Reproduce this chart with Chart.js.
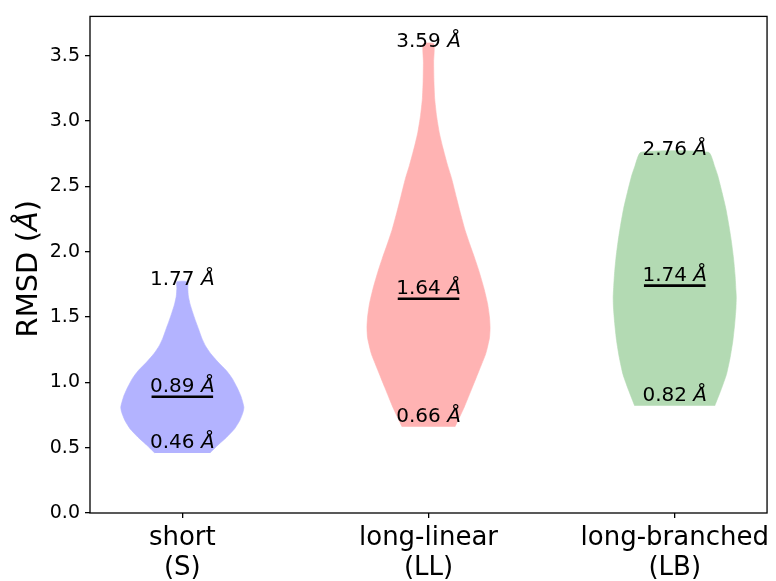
<!DOCTYPE html>
<html>
<head>
<meta charset="utf-8">
<script src="https://cdn.jsdelivr.net/npm/chart.js@4/dist/chart.umd.min.js"></script>
<style>
  html, body { margin: 0; padding: 0; background: #fff; }
  #wrap { width: 776px; height: 581px; }
</style>
</head>
<body>
<div id="wrap"><canvas id="c" width="776" height="581"></canvas></div>
<script>
// Groups along the x axis
const categories = [['short', '(S)'], ['long-linear', '(LL)'], ['long-branched', '(LB)']];
const positions = [1, 2, 3];

// Summary statistics per group (RMSD in Å)
const minValues = [0.46, 0.66, 0.82];
const maxValues = [1.77, 3.59, 2.76];
const medianValues = [0.89, 1.64, 1.74];

// Kernel density outlines: [RMSD, density relative to the group's peak]
const densityS = [
  [0.46, 0.45], [0.52, 0.58], [0.58, 0.72], [0.645, 0.85], [0.71, 0.935],
  [0.77, 0.985], [0.81, 1.0], [0.89, 0.955], [0.96, 0.89], [1.03, 0.81],
  [1.09, 0.715], [1.155, 0.58], [1.22, 0.46], [1.28, 0.375], [1.34, 0.315],
  [1.41, 0.262], [1.47, 0.215], [1.535, 0.168], [1.60, 0.125], [1.66, 0.098],
  [1.72, 0.089], [1.77, 0.088]
];
const densityLL = [
  [0.66, 0.43], [0.81, 0.58], [0.96, 0.71], [1.10, 0.83], [1.22, 0.93],
  [1.34, 0.99], [1.42, 1.0], [1.50, 0.99], [1.60, 0.96], [1.72, 0.90],
  [1.85, 0.82], [1.95, 0.75], [2.05, 0.675], [2.17, 0.59], [2.30, 0.515],
  [2.41, 0.455], [2.56, 0.375], [2.66, 0.31], [2.80, 0.23], [2.91, 0.175],
  [3.04, 0.13], [3.17, 0.10], [3.30, 0.088], [3.45, 0.083], [3.59, 0.085]
];
const densityLB = [
  [0.82, 0.65], [0.94, 0.75], [1.06, 0.84], [1.19, 0.90], [1.32, 0.945],
  [1.45, 0.975], [1.57, 0.995], [1.65, 1.0], [1.70, 0.995], [1.82, 0.98],
  [1.95, 0.955], [2.08, 0.92], [2.20, 0.88], [2.33, 0.83], [2.45, 0.77],
  [2.58, 0.70], [2.65, 0.65], [2.76, 0.55]
];
const densities = [densityS, densityLL, densityLB];

const fillColors = ['rgb(179,179,255)', 'rgb(255,179,179)', 'rgb(179,218,179)'];
const yTicks = [0, 0.5, 1.0, 1.5, 2.0, 2.5, 3.0, 3.5];

const HALF_WIDTH = 0.25;     // half of the violin width in x units
const MEDIAN_HALF = 0.125;   // half-length of the median bar
const FONT = "'DejaVu Sans', sans-serif";

// Closed outline: up the right side, back down the left side
function violinOutline(center, profile) {
  const right = profile.map(([v, w]) => ({ x: center + w * HALF_WIDTH, y: v }));
  const left = profile.slice().reverse().map(([v, w]) => ({ x: center - w * HALF_WIDTH, y: v }));
  return right.concat(left);
}

const datasets = [];
positions.forEach((p, i) => {
  datasets.push({
    data: violinOutline(p, densities[i]),
    backgroundColor: fillColors[i],
    borderColor: fillColors[i],
    borderWidth: 0.6,
    fill: 'shape',
    tension: 0.18,
    pointRadius: 0,
    pointHoverRadius: 0,
    order: 2
  });
});
positions.forEach((p, i) => {
  datasets.push({
    data: [{ x: p - MEDIAN_HALF, y: medianValues[i] }, { x: p + MEDIAN_HALF, y: medianValues[i] }],
    borderColor: '#000',
    borderWidth: 2.6,
    fill: false,
    tension: 0,
    pointRadius: 0,
    pointHoverRadius: 0,
    order: 1
  });
});

// Draw "value Å" with an italic Å, centred on x
function drawValueText(ctx, value, x, baseline, size) {
  const num = value.toFixed(2) + ' ';
  ctx.font = size + 'px ' + FONT;
  const w1 = ctx.measureText(num).width;
  ctx.font = 'oblique ' + size + 'px ' + FONT;
  const w2 = ctx.measureText('Å').width;
  const start = x - (w1 + w2) / 2;
  ctx.textAlign = 'left';
  ctx.textBaseline = 'alphabetic';
  ctx.fillStyle = '#000';
  ctx.font = size + 'px ' + FONT;
  ctx.fillText(num, start, baseline);
  ctx.font = 'oblique ' + size + 'px ' + FONT;
  ctx.fillText('Å', start + w1, baseline);
}

const annotations = {
  id: 'annotations',
  afterDatasetsDraw(chart) {
    const { ctx, chartArea, scales } = chart;
    const xs = scales.x, ys = scales.y;
    ctx.save();
    positions.forEach((p, i) => {
      const cx = xs.getPixelForValue(p);
      drawValueText(ctx, maxValues[i], cx, ys.getPixelForValue(maxValues[i]) + 3, 20);
      drawValueText(ctx, medianValues[i], cx, ys.getPixelForValue(medianValues[i]) - 5, 20);
      drawValueText(ctx, minValues[i], cx, ys.getPixelForValue(minValues[i]) - 5, 20);
    });
    // axes frame
    ctx.strokeStyle = '#000';
    ctx.lineWidth = 1.3;
    ctx.strokeRect(chartArea.left, chartArea.top, chartArea.right - chartArea.left, chartArea.bottom - chartArea.top);
    // y axis title
    ctx.translate(37, (chartArea.top + chartArea.bottom) / 2 + 4);
    ctx.rotate(-Math.PI / 2);
    const size = 29;
    const parts = [['RMSD (', false], ['Å', true], [')', false]];
    let total = 0;
    parts.forEach(([t, it]) => {
      ctx.font = (it ? 'oblique ' : '') + size + 'px ' + FONT;
      total += ctx.measureText(t).width;
    });
    let x0 = -total / 2;
    ctx.textAlign = 'left';
    ctx.textBaseline = 'alphabetic';
    ctx.fillStyle = '#000';
    parts.forEach(([t, it]) => {
      ctx.font = (it ? 'oblique ' : '') + size + 'px ' + FONT;
      ctx.fillText(t, x0, 0);
      x0 += ctx.measureText(t).width;
    });
    ctx.restore();
  }
};

new Chart(document.getElementById('c'), {
  type: 'line',
  data: { datasets },
  options: {
    responsive: false,
    animation: false,
    devicePixelRatio: 1,
    layout: { padding: { top: 13, right: 8, left: 0, bottom: 0 } },
    plugins: { legend: { display: false }, tooltip: { enabled: false } },
    events: [],
    scales: {
      x: {
        type: 'linear',
        min: 0.625,
        max: 3.375,
        afterBuildTicks(scale) { scale.ticks = positions.map(v => ({ value: v })); },
        afterFit(scale) { scale.height = 68; },
        ticks: {
          autoSkip: false,
          maxRotation: 0,
          padding: 6,
          color: '#000',
          font: { family: FONT, size: 26, lineHeight: 1.13 },
          callback: (v) => categories[positions.indexOf(v)]
        },
        grid: { drawOnChartArea: false, drawTicks: true, tickLength: 5, color: '#000', lineWidth: 1.3 },
        border: { display: false }
      },
      y: {
        type: 'linear',
        min: 0,
        max: 3.8,
        afterBuildTicks(scale) { scale.ticks = yTicks.map(v => ({ value: v })); },
        afterFit(scale) { scale.width = 90; },
        ticks: {
          padding: 5,
          color: '#000',
          font: { family: FONT, size: 19 },
          callback: (v) => v.toFixed(1)
        },
        grid: { drawOnChartArea: false, drawTicks: true, tickLength: 5, color: '#000', lineWidth: 1.3 },
        border: { display: false }
      }
    }
  },
  plugins: [annotations]
});
</script>
</body>
</html>
